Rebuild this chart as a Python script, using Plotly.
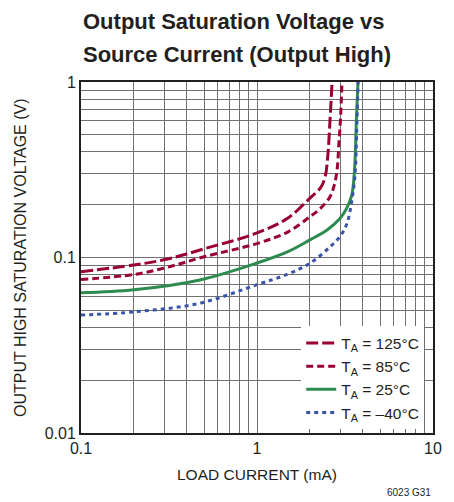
import plotly.graph_objects as go

# Data (load current mA, saturation voltage V)
x_125 = [0.1, 0.2, 0.31, 0.5, 1.0, 1.5, 2.0, 2.3, 2.44, 2.53, 2.60, 2.67]
y_125 = [0.083, 0.0906, 0.098, 0.112, 0.138, 0.168, 0.218, 0.250, 0.289, 0.39, 0.61, 1.0]

x_85 = [0.1, 0.2, 0.31, 0.5, 1.0, 1.5, 2.0, 2.3, 2.6, 2.75, 2.85, 2.92, 2.98, 3.04]
y_85 = [0.075, 0.080, 0.088, 0.101, 0.120, 0.140, 0.171, 0.191, 0.222, 0.259, 0.315, 0.448, 0.61, 1.0]

x_25 = [0.1, 0.2, 0.474, 1.0, 1.5, 2.0, 2.5, 2.96, 3.2, 3.45, 3.56, 3.62, 3.67, 3.75]
y_25 = [0.063, 0.0655, 0.0745, 0.093, 0.108, 0.126, 0.1435, 0.167, 0.187, 0.225, 0.29, 0.39, 0.61, 1.0]

x_m40 = [0.1, 0.2, 0.47, 1.0, 1.5, 2.0, 2.6, 3.0, 3.25, 3.44, 3.6, 3.68, 3.75]
y_m40 = [0.047, 0.049, 0.0548, 0.070, 0.0805, 0.0927, 0.115, 0.134, 0.157, 0.204, 0.29, 0.5, 1.0]

names = ["T<sub>A</sub> = 125°C", "T<sub>A</sub> = 85°C", "T<sub>A</sub> = 25°C", "T<sub>A</sub> = –40°C"]

x_major = [0.1, 1, 10]
x_major_text = ["0.1", "1", "10"]
x_minor = [0.2, 0.3, 0.4, 0.5, 0.6, 0.7, 0.8, 0.9, 2, 3, 4, 5, 6, 7, 8, 9]
y_major = [0.01, 0.1, 1]
y_major_text = ["0.01", "0.1", "1"]
y_minor = [0.02, 0.03, 0.04, 0.05, 0.06, 0.07, 0.08, 0.09,
           0.2, 0.3, 0.4, 0.5, 0.6, 0.7, 0.8, 0.9]

title_lines = ["Output Saturation Voltage vs", "Source Current (Output High)"]

RED = "#990033"
GREEN = "#2e8b50"
BLUE = "#3a55a8"
FONT = "Liberation Sans, Arial, sans-serif"
TXT = "#231f20"
GRID = "#707070"

fig = go.Figure()
fig.add_trace(go.Scatter(x=x_125, y=y_125, mode="lines", name=names[0],
                         line=dict(color=RED, width=3, dash="12px,4px", shape="spline")))
fig.add_trace(go.Scatter(x=x_85, y=y_85, mode="lines", name=names[1],
                         line=dict(color=RED, width=3, dash="7px,4px", shape="spline")))
fig.add_trace(go.Scatter(x=x_25, y=y_25, mode="lines", name=names[2],
                         line=dict(color=GREEN, width=3, shape="spline")))
fig.add_trace(go.Scatter(x=x_m40, y=y_m40, mode="lines", name=names[3],
                         line=dict(color=BLUE, width=3, dash="4px,4px", shape="spline")))

axis_common = dict(type="log", showgrid=True, gridcolor=GRID, gridwidth=1,
                   showline=True, linecolor="#231f20", linewidth=2, mirror=True,
                   ticks="", zeroline=False,
                   tickfont=dict(family=FONT, size=16, color=TXT))

fig.update_xaxes(range=[-1, 1], tickvals=x_major, ticktext=x_major_text,
                 minor=dict(tickvals=x_minor, showgrid=True, gridcolor=GRID, gridwidth=1, ticks=""),
                 **axis_common)
fig.update_yaxes(range=[-2, 0], tickvals=y_major, ticktext=y_major_text,
                 minor=dict(tickvals=y_minor, showgrid=True, gridcolor=GRID, gridwidth=1, ticks=""),
                 **axis_common)

annotations = [
    dict(text="<b>%s</b>" % title_lines[0], xref="paper", yref="paper", x=0, y=1,
         xanchor="left", yanchor="middle", yshift=61, showarrow=False,
         font=dict(family=FONT, size=22, color=TXT)),
    dict(text="<b>%s</b>" % title_lines[1], xref="paper", yref="paper", x=0, y=1,
         xanchor="left", yanchor="middle", yshift=28, showarrow=False,
         font=dict(family=FONT, size=22, color=TXT)),
    dict(text="LOAD CURRENT (mA)", xref="paper", yref="paper", x=0.5, y=0,
         xanchor="center", yanchor="top", yshift=-31, showarrow=False,
         font=dict(family=FONT, size=15.5, color=TXT)),
    dict(text="OUTPUT HIGH SATURATION VOLTAGE (V)", xref="paper", yref="paper",
         x=0, y=0.5, xanchor="right", yanchor="middle", xshift=-50, textangle=-90,
         showarrow=False, font=dict(family=FONT, size=16, color=TXT)),
    dict(text="6023 G31", xref="paper", yref="paper", x=1, y=0, xanchor="right",
         yanchor="top", yshift=-52, xshift=0, showarrow=False,
         font=dict(family=FONT, size=10, color=TXT)),
]

fig.update_layout(
    width=446, height=494,
    margin=dict(l=73, r=21, t=74, b=69),
    paper_bgcolor="white", plot_bgcolor="white",
    showlegend=True,
    legend=dict(x=0.975, y=0.01, xanchor="right", yanchor="bottom",
                bgcolor="white", borderwidth=0,
                font=dict(family=FONT, size=15.5, color=TXT),
                tracegroupgap=0, itemwidth=30),
    annotations=annotations,
)

fig.write_html("out.html")
